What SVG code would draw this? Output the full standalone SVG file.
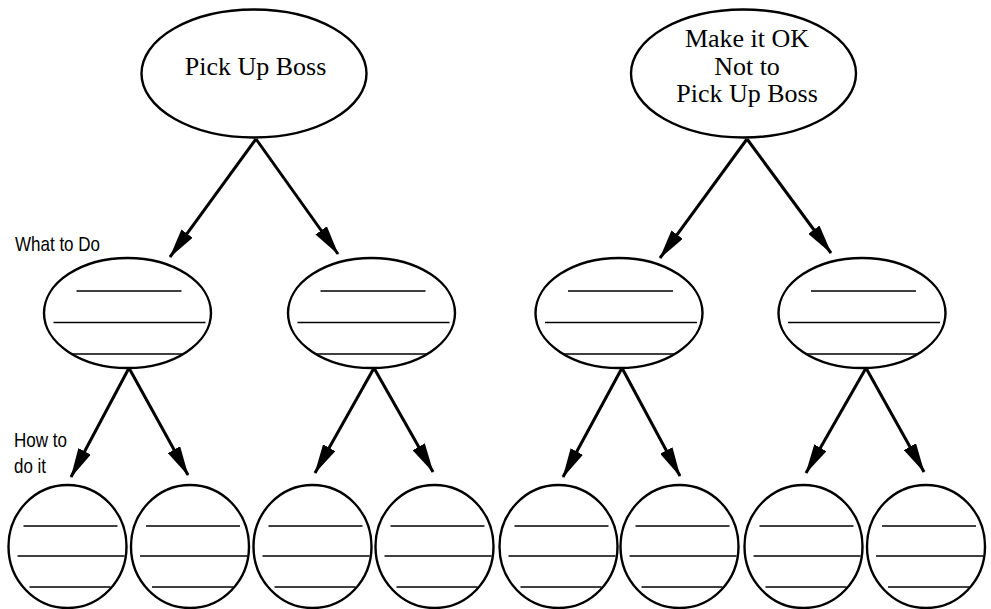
<svg xmlns="http://www.w3.org/2000/svg" xmlns:xlink="http://www.w3.org/1999/xlink" width="991" height="609" viewBox="0 0 991 609">
  <style>
    .shape { fill: #fff; stroke: #000; stroke-width: 2.4; }
    .rule { stroke: #000; stroke-width: 1.5; fill: none; }
    .edge { stroke: #000; stroke-width: 3; fill: none; marker-end: url(#head); }
    .goal { font-family: "Liberation Serif", "Times New Roman", serif; font-size: 26px; fill: #000; text-anchor: middle; }
    .tag { font-family: "Liberation Sans", Arial, sans-serif; font-size: 21px; fill: #000; }
  </style>
  <defs>
    <marker id="head" markerUnits="userSpaceOnUse" markerWidth="30" markerHeight="14" refX="29" refY="7" orient="auto">
      <path d="M0,0 L30,7 L0,14 Z" fill="#000"/>
    </marker>
    <!-- "what to do" oval with three writing lines -->
    <g id="oval">
      <ellipse class="shape" cx="0" cy="0" rx="83.5" ry="55"/>
      <line class="rule" x1="-51" y1="-22" x2="54" y2="-22"/>
      <line class="rule" x1="-74" y1="9.5" x2="78" y2="9.5"/>
      <line class="rule" x1="-56" y1="41" x2="56" y2="41"/>
    </g>
    <!-- "how to do it" circle with three writing lines -->
    <g id="disc">
      <ellipse class="shape" cx="0" cy="0" rx="59" ry="61.5"/>
      <line class="rule" x1="-44" y1="-20.5" x2="50" y2="-20.5"/>
      <line class="rule" x1="-50" y1="9.5" x2="57" y2="9.5"/>
      <line class="rule" x1="-38" y1="40.5" x2="43" y2="40.5"/>
    </g>
  </defs>

  <rect width="991" height="609" fill="#fff"/>

  <!-- connectors -->
  <g id="connectors">
    <line class="edge" x1="256" y1="139" x2="170" y2="257"/>
    <line class="edge" x1="256" y1="139" x2="338" y2="254"/>
    <line class="edge" x1="747" y1="139" x2="660" y2="258"/>
    <line class="edge" x1="747" y1="139" x2="831" y2="253"/>

    <line class="edge" x1="129" y1="368" x2="71" y2="477"/>
    <line class="edge" x1="129" y1="368" x2="188" y2="475"/>
    <line class="edge" x1="374" y1="368" x2="315" y2="473"/>
    <line class="edge" x1="374" y1="368" x2="433" y2="472"/>
    <line class="edge" x1="622" y1="368" x2="563" y2="477"/>
    <line class="edge" x1="622" y1="368" x2="680" y2="476"/>
    <line class="edge" x1="866" y1="368" x2="806" y2="473"/>
    <line class="edge" x1="866" y1="368" x2="924" y2="472"/>
  </g>

  <!-- goals -->
  <g id="goal-pickup">
    <ellipse class="shape" cx="254" cy="73.5" rx="112.5" ry="64"/>
    <text class="goal" x="255.5" y="75">Pick Up Boss</text>
  </g>
  <g id="goal-ok">
    <ellipse class="shape" cx="743.5" cy="73.5" rx="112.5" ry="64"/>
    <text class="goal" x="747" y="47">Make it OK</text>
    <text class="goal" x="747" y="75">Not to</text>
    <text class="goal" x="747" y="102">Pick Up Boss</text>
  </g>

  <!-- what to do -->
  <g id="what-1"><use xlink:href="#oval" x="127.5" y="313"/></g>
  <g id="what-2"><use xlink:href="#oval" x="371.5" y="313"/></g>
  <g id="what-3"><use xlink:href="#oval" x="619" y="313"/></g>
  <g id="what-4"><use xlink:href="#oval" x="862" y="313"/></g>

  <!-- how to do it -->
  <g id="how-1"><use xlink:href="#disc" x="67.5" y="546.5"/></g>
  <g id="how-2"><use xlink:href="#disc" x="190" y="546.5"/></g>
  <g id="how-3"><use xlink:href="#disc" x="312.5" y="546.5"/></g>
  <g id="how-4"><use xlink:href="#disc" x="434.5" y="546.5"/></g>
  <g id="how-5"><use xlink:href="#disc" x="558.5" y="546.5"/></g>
  <g id="how-6"><use xlink:href="#disc" x="679.5" y="546.5"/></g>
  <g id="how-7"><use xlink:href="#disc" x="803.5" y="546.5"/></g>
  <g id="how-8"><use xlink:href="#disc" x="926" y="546.5"/></g>

  <!-- level labels -->
  <g id="labels">
    <text class="tag" x="15" y="251" textLength="85" lengthAdjust="spacingAndGlyphs">What to Do</text>
    <text class="tag" x="14" y="447" textLength="53" lengthAdjust="spacingAndGlyphs">How to</text>
    <text class="tag" x="14" y="473" textLength="32" lengthAdjust="spacingAndGlyphs">do it</text>
  </g>
</svg>
